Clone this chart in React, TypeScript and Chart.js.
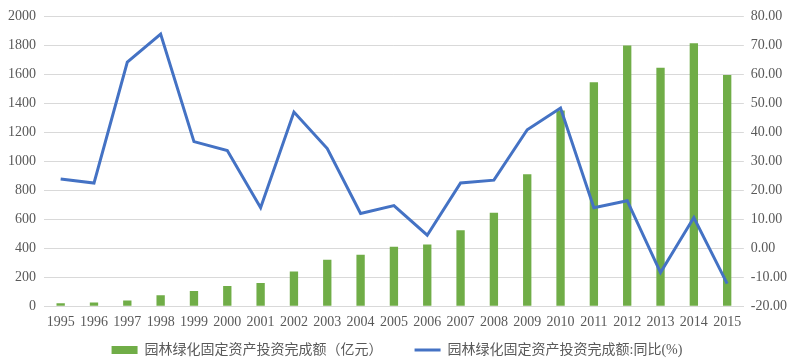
import React, { useEffect, useRef } from "react";
import { Chart, registerables } from "chart.js";

Chart.register(...registerables);

const years = ["1995","1996","1997","1998","1999","2000","2001","2002","2003","2004","2005","2006","2007","2008","2009","2010","2011","2012","2013","2014","2015"];
const investment = [20, 25, 40, 75, 105, 140, 160, 240, 320, 355, 410, 425, 525, 645, 910, 1350, 1545, 1800, 1645, 1815, 1595];
const yoy = [23.9, 22.5, 64.2, 73.9, 36.8, 33.7, 14.0, 47.0, 34.4, 12.0, 14.7, 4.5, 22.5, 23.5, 40.9, 48.4, 14.0, 16.4, -8.4, 10.6, -12.2];
const barLabel = "园林绿化固定资产投资完成额（亿元）　　  ";
const lineLabel = "园林绿化固定资产投资完成额:同比(%)";

export default function App() {
  const ref = useRef<HTMLCanvasElement>(null);
  useEffect(() => {
    if (!ref.current) return;
    const serif = "Liberation Serif, Times New Roman, Noto Sans CJK SC, serif";
    const chart = new Chart(ref.current, {
      data: {
        labels: years,
        datasets: [
          {
            type: "line",
            label: lineLabel,
            data: yoy,
            yAxisID: "y1",
            borderColor: "#4472C4",
            backgroundColor: "#4472C4",
            borderWidth: 3,
            pointRadius: 0,
            tension: 0,
            pointStyle: "line",
            order: 0,
          },
          {
            type: "bar",
            label: barLabel,
            data: investment,
            yAxisID: "y",
            backgroundColor: "#70AD47",
            borderWidth: 0,
            barPercentage: 0.5,
            categoryPercentage: 0.5,
            pointStyle: "rect",
            order: 1,
          },
        ],
      },
      options: {
        animation: false,
        responsive: false,
        layout: { padding: { left: 0, right: 6, top: 1, bottom: -8 } },
        plugins: {
          tooltip: { enabled: false },
          legend: {
            position: "bottom",
            reverse: true,
            labels: {
              usePointStyle: true,
              pointStyleWidth: 26,
              boxHeight: 8,
              padding: 4,
              color: "#595959",
              font: { family: serif, size: 14 },
            },
          },
        },
        scales: {
          x: {
            grid: { display: false, drawTicks: false },
            border: { color: "#d9d9d9" },
            ticks: { color: "#595959", font: { family: serif, size: 14 }, maxRotation: 0, padding: 8 },
          },
          y: {
            position: "left",
            min: 0,
            max: 2000,
            grid: { color: "#d9d9d9", drawTicks: false },
            border: { display: false },
            ticks: { stepSize: 200, color: "#595959", font: { family: serif, size: 14 }, padding: 8, callback: (v: any) => String(v) },
          },
          y1: {
            position: "right",
            min: -20,
            max: 80,
            grid: { display: false, drawTicks: false },
            border: { display: false },
            ticks: {
              stepSize: 10,
              color: "#595959",
              font: { family: serif, size: 14 },
              padding: 7,
              callback: (v: any) => Number(v).toFixed(2),
            },
          },
        },
      },
    });
    return () => chart.destroy();
  }, []);
  return (
    <div style={{ position: "fixed", left: 0, top: 0, width: 800, height: 359, background: "#fff" }}>
      <canvas ref={ref} width={800} height={359} />
    </div>
  );
}
